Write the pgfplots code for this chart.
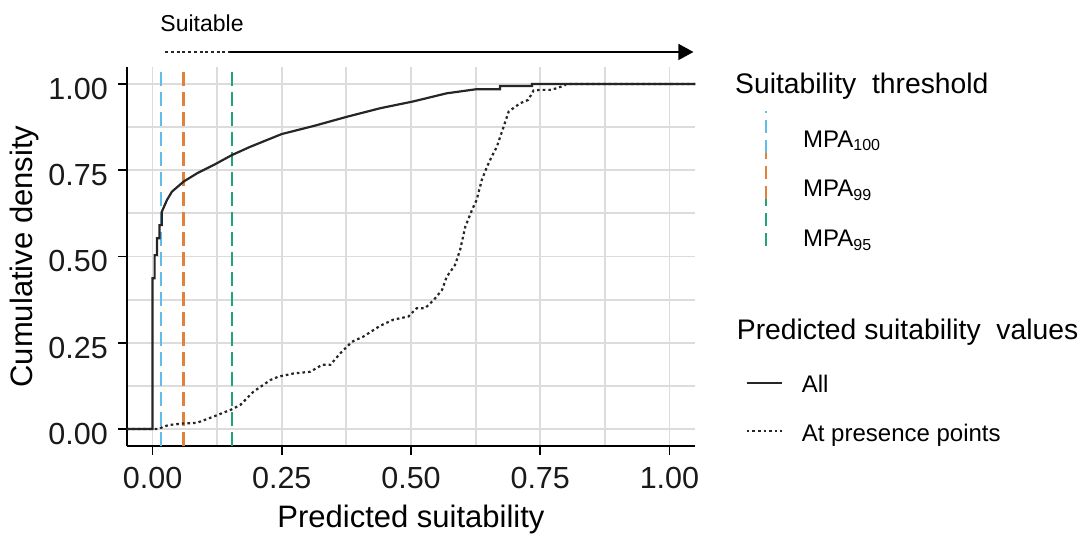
\documentclass[border=0pt]{standalone}
\usepackage{pgfplots}
\pgfplotsset{compat=1.18}
\usepackage{fontspec}
\setmainfont{Liberation Sans}
\usetikzlibrary{arrows.meta}

\definecolor{mpablue}{HTML}{62BCEB}
\definecolor{mpaorange}{HTML}{E2823A}
\definecolor{mpagreen}{HTML}{22A27A}
\definecolor{gridgray}{HTML}{DCDCDC}
\definecolor{ticktext}{HTML}{1A1A1A}

% ECDF of predicted suitability, all cells
\pgfplotstableread{
x y
-0.05 0
0 0
0 0.437
0.004 0.437
0.004 0.504
0.0085 0.504
0.0085 0.553
0.0135 0.553
0.0135 0.591
0.018 0.591
0.018 0.630
0.028 0.664
0.0375 0.688
0.060 0.717
0.086 0.741
0.118 0.765
0.1535 0.794
0.189 0.818
0.250 0.855
0.311 0.878
0.376 0.905
0.441 0.930
0.503 0.949
0.569 0.973
0.627 0.985
0.672 0.985
0.672 0.994
0.734 0.994
0.734 1
1.05 1
}\allcells

% ECDF of predicted suitability at presence points
\pgfplotstableread{
x y
-0.05 0
0.012 0
0.021 0.007
0.034 0.012
0.060 0.016
0.086 0.018
0.118 0.036
0.1535 0.057
0.170 0.070
0.195 0.108
0.228 0.142
0.244 0.152
0.273 0.161
0.305 0.166
0.328 0.186
0.344 0.186
0.363 0.219
0.386 0.253
0.408 0.268
0.440 0.299
0.466 0.317
0.495 0.326
0.511 0.350
0.527 0.350
0.544 0.374
0.560 0.403
0.569 0.441
0.585 0.475
0.595 0.519
0.605 0.586
0.618 0.635
0.627 0.664
0.637 0.722
0.647 0.760
0.656 0.789
0.666 0.818
0.676 0.862
0.689 0.920
0.698 0.930
0.711 0.944
0.727 0.954
0.737 0.981
0.750 0.983
0.769 0.983
0.783 0.988
0.798 0.997
0.800 1
1.05 1
}\presence

\begin{document}
\begin{tikzpicture}[x=1pt,y=1pt]
\useasboundingbox (-126.7,-89.75) rectangle (961.3,446.25);
\begin{axis}[
  at={(0,0)}, anchor=south west,
  scale only axis, width=568.6pt, height=379.5pt,
  xmin=-0.05, xmax=1.05, ymin=-0.05, ymax=1.05,
  axis lines=left,
  axis line style={-, line width=1.7pt, black},
  xtick={0,0.25,0.5,0.75,1},
  xticklabels={0.00,0.25,0.50,0.75,1.00},
  ytick={0,0.25,0.5,0.75,1},
  yticklabels={0.00,0.25,0.50,0.75,1.00},
  minor xtick={0.125,0.375,0.625,0.875},
  minor ytick={0.125,0.375,0.625,0.875},
  grid=both,
  major grid style={gridgray, line width=1.8pt},
  minor grid style={gridgray, line width=1.8pt},
  tick align=outside,
  major tick length=8.4pt,
  minor tick length=0pt,
  tick style={black, line width=1.7pt},
  xticklabel style={font=\fontsize{30.5}{36}\selectfont, text=ticktext, anchor=base, inner sep=0pt, yshift=-33.6pt},
  yticklabel style={font=\fontsize{30.5}{36}\selectfont, text=ticktext, anchor=base east, inner sep=0pt, xshift=-10.3pt, yshift=-15.3pt},
  xlabel={Predicted suitability},
  ylabel={Cumulative density},
  xlabel style={font=\fontsize{31}{36}\selectfont, at={(axis description cs:0.5,-0.2128)}, anchor=base, inner sep=0pt},
  ylabel style={font=\fontsize{31}{36}\selectfont, at={(axis description cs:-0.1648,0.5)}, anchor=base, inner sep=0pt},
  clip=false,
]
% suitability thresholds
\addplot[mpablue, line width=2.4pt, dash pattern=on 14pt off 6pt] coordinates {(0.0168,-0.05) (0.0168,1.05)};
\addplot[mpaorange, line width=2.4pt, dash pattern=on 14pt off 6pt] coordinates {(0.060,-0.05) (0.060,1.05)};
\addplot[mpagreen, line width=2.4pt, dash pattern=on 14pt off 6pt] coordinates {(0.1535,-0.05) (0.1535,1.05)};
% cumulative curves
\addplot[black!85, line width=2.2pt, dash pattern=on 2.6pt off 3pt] table[x=x,y=y] {\presence};
\addplot[black!85, line width=2.2pt] table[x=x,y=y] {\allcells};
% direction of suitability
\draw[black!85, line width=1.4pt, dash pattern=on 3pt off 2.7pt] (axis cs:0.0248,1.0928) -- (axis cs:0.1493,1.0928);
\draw[black, line width=1.6pt, -{Triangle[length=15pt,width=16pt]}] (axis cs:0.1493,1.0928) -- (axis cs:1.0464,1.0928);
\node[anchor=base west, inner sep=0pt, font=\fontsize{23}{28}\selectfont] at (axis cs:0.0149,1.1516) {Suitable};
\end{axis}

% legend: thresholds
\node[anchor=base west, inner sep=0pt, font=\fontsize{28.3}{34}\selectfont] at (608.3,353) {Suitability\ \ threshold};
\draw[mpablue, line width=2.4pt, dash pattern=on 13pt off 7pt] (639.3,293.25) -- (639.3,335.25);
\draw[mpaorange, line width=2.4pt, dash pattern=on 13pt off 7pt] (639.3,246.95) -- (639.3,293.25);
\draw[mpagreen, line width=2.4pt, dash pattern=on 13pt off 7pt] (639.3,199.75) -- (639.3,246.95);
\begin{scope}[every node/.style={anchor=base west, inner sep=0pt, font=\fontsize{24}{28}\selectfont}]
\node at (676.3,298.95) {MPA\raisebox{-3.4pt}{\fontsize{16}{16}\selectfont 100}};
\node at (676.3,249.55) {MPA\raisebox{-3.4pt}{\fontsize{16}{16}\selectfont 99}};
\node at (676.3,199.55) {MPA\raisebox{-3.4pt}{\fontsize{16}{16}\selectfont 95}};
\end{scope}

% legend: curves
\node[anchor=base west, inner sep=0pt, font=\fontsize{28.3}{34}\selectfont] at (610,107) {Predicted suitability\ \ values};
\draw[black!85, line width=2.2pt] (620,62.95) -- (655,62.95);
\draw[black!85, line width=2.2pt, dash pattern=on 2.6pt off 3pt] (620,15.55) -- (655,15.55);
\begin{scope}[every node/.style={anchor=base west, inner sep=0pt, font=\fontsize{24}{28}\selectfont}]
\node at (675,53.55) {All};
\node at (675,4.55) {At presence points};
\end{scope}
\end{tikzpicture}
\end{document}
